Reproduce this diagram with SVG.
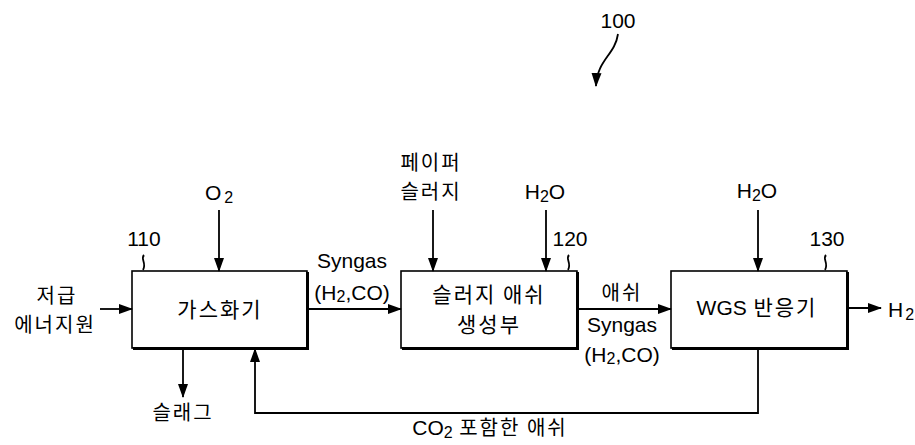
<svg xmlns="http://www.w3.org/2000/svg" width="915" height="445" viewBox="0 0 915 445">
<defs>
<marker id="ah" markerWidth="14" markerHeight="12" refX="13" refY="6" orient="auto" markerUnits="userSpaceOnUse">
<path d="M0,1 L14,6 L0,11 Z" fill="#000"/>
</marker>
<style>
.box{fill:#fff;stroke:#000;stroke-width:1.6}
.sh{fill:none;stroke:#000;stroke-width:3}
.ln{fill:none;stroke:#000;stroke-width:1.8}
.t{font-family:"Liberation Sans","Noto Sans CJK KR",Arial,sans-serif;font-size:21px;fill:#000}
.k{font-family:"Noto Sans CJK KR","Liberation Sans",sans-serif;font-size:20px;letter-spacing:2px;fill:#000}
.kb{font-family:"Noto Sans CJK KR","Liberation Sans",sans-serif;font-size:21px;letter-spacing:2px;fill:#000}
.n{font-family:"Liberation Sans",Arial,sans-serif;font-size:21px;fill:#000}
.sub{font-size:16px}
</style>
</defs>
<rect width="915" height="445" fill="#fff"/>

<g id="label100">
<text class="n" x="618" y="28" text-anchor="middle">100</text>
<path class="ln" d="M618,34 C615,55 597,60 596,86" marker-end="url(#ah)"/>
</g>

<g id="gasifier">
<rect class="box" x="132" y="271" width="175" height="77"/>
<path class="sh" d="M307.5,272 V348.5 H133"/>
<text class="kb" x="220" y="317" text-anchor="middle">가스화기</text>
<text class="n" x="144" y="246" text-anchor="middle">110</text>
<path class="ln" d="M144,255 C140,259 147,263 143,270" stroke-width="1"/>
</g>

<g id="sludge">
<rect class="box" x="401" y="271" width="176" height="77"/>
<path class="sh" d="M577.5,272 V348.5 H402"/>
<text class="kb" x="489" y="302" text-anchor="middle">슬러지 애쉬</text>
<text class="kb" x="489" y="332" text-anchor="middle">생성부</text>
<text class="n" x="570" y="246" text-anchor="middle">120</text>
<path class="ln" d="M569,255 C565,259 572,263 568,270" stroke-width="1"/>
</g>

<g id="wgs">
<rect class="box" x="671" y="271" width="176" height="77"/>
<path class="sh" d="M847.5,272 V348.5 H672"/>
<text class="kb" x="757" y="315" text-anchor="middle"><tspan class="t" style="letter-spacing:0">WGS</tspan> 반응기</text>
<text class="n" x="827" y="246" text-anchor="middle">130</text>
<path class="ln" d="M826,255 C822,259 829,263 825,270" stroke-width="1"/>
</g>

<g id="connectors">
<line class="ln" x1="100" y1="309" x2="132" y2="309" marker-end="url(#ah)"/>
<line class="ln" x1="219" y1="210" x2="219" y2="271" marker-end="url(#ah)"/>
<line class="ln" x1="183" y1="349" x2="183" y2="397" marker-end="url(#ah)"/>
<path class="ln" d="M758,349 V413 H255 V349" marker-end="url(#ah)"/>
<line class="ln" x1="307" y1="309" x2="401" y2="309" marker-end="url(#ah)"/>
<line class="ln" x1="433" y1="210" x2="433" y2="271" marker-end="url(#ah)"/>
<line class="ln" x1="546" y1="210" x2="546" y2="271" marker-end="url(#ah)"/>
<line class="ln" x1="577" y1="309" x2="671" y2="309" marker-end="url(#ah)"/>
<line class="ln" x1="758" y1="210" x2="758" y2="271" marker-end="url(#ah)"/>
<line class="ln" x1="847" y1="308" x2="881" y2="308" marker-end="url(#ah)"/>
</g>

<g id="labels">
<text class="k" x="57" y="303" text-anchor="middle">저급</text>
<text class="k" x="55" y="332" text-anchor="middle">에너지원</text>
<text class="n" x="219" y="200" text-anchor="middle">O<tspan class="sub" dx="3" dy="3">2</tspan></text>
<text class="k" x="183" y="420" text-anchor="middle">슬래그</text>
<text class="t" x="352" y="268" text-anchor="middle">Syngas</text>
<text class="t" x="352" y="300" text-anchor="middle">(H<tspan class="sub" dy="2">2</tspan><tspan dy="-2">,CO)</tspan></text>
<text class="k" x="431" y="170" text-anchor="middle">페이퍼</text>
<text class="k" x="431" y="199" text-anchor="middle">슬러지</text>
<text class="n" x="545" y="199" text-anchor="middle">H<tspan class="sub" dy="3">2</tspan><tspan dy="-3">O</tspan></text>
<text class="k" x="622" y="300" text-anchor="middle">애쉬</text>
<text class="t" x="622" y="332" text-anchor="middle">Syngas</text>
<text class="t" x="622" y="362" text-anchor="middle">(H<tspan class="sub" dy="2">2</tspan><tspan dy="-2">,CO)</tspan></text>
<text class="n" x="757" y="198" text-anchor="middle">H<tspan class="sub" dy="3">2</tspan><tspan dy="-3">O</tspan></text>
<text class="n" x="888" y="317">H<tspan class="sub" dx="2" dy="3">2</tspan></text>
<text class="k" x="490" y="435" text-anchor="middle"><tspan class="n" style="letter-spacing:0">CO<tspan class="sub" dy="3">2</tspan></tspan><tspan dy="-3"> 포함한 애쉬</tspan></text>
</g>
</svg>
